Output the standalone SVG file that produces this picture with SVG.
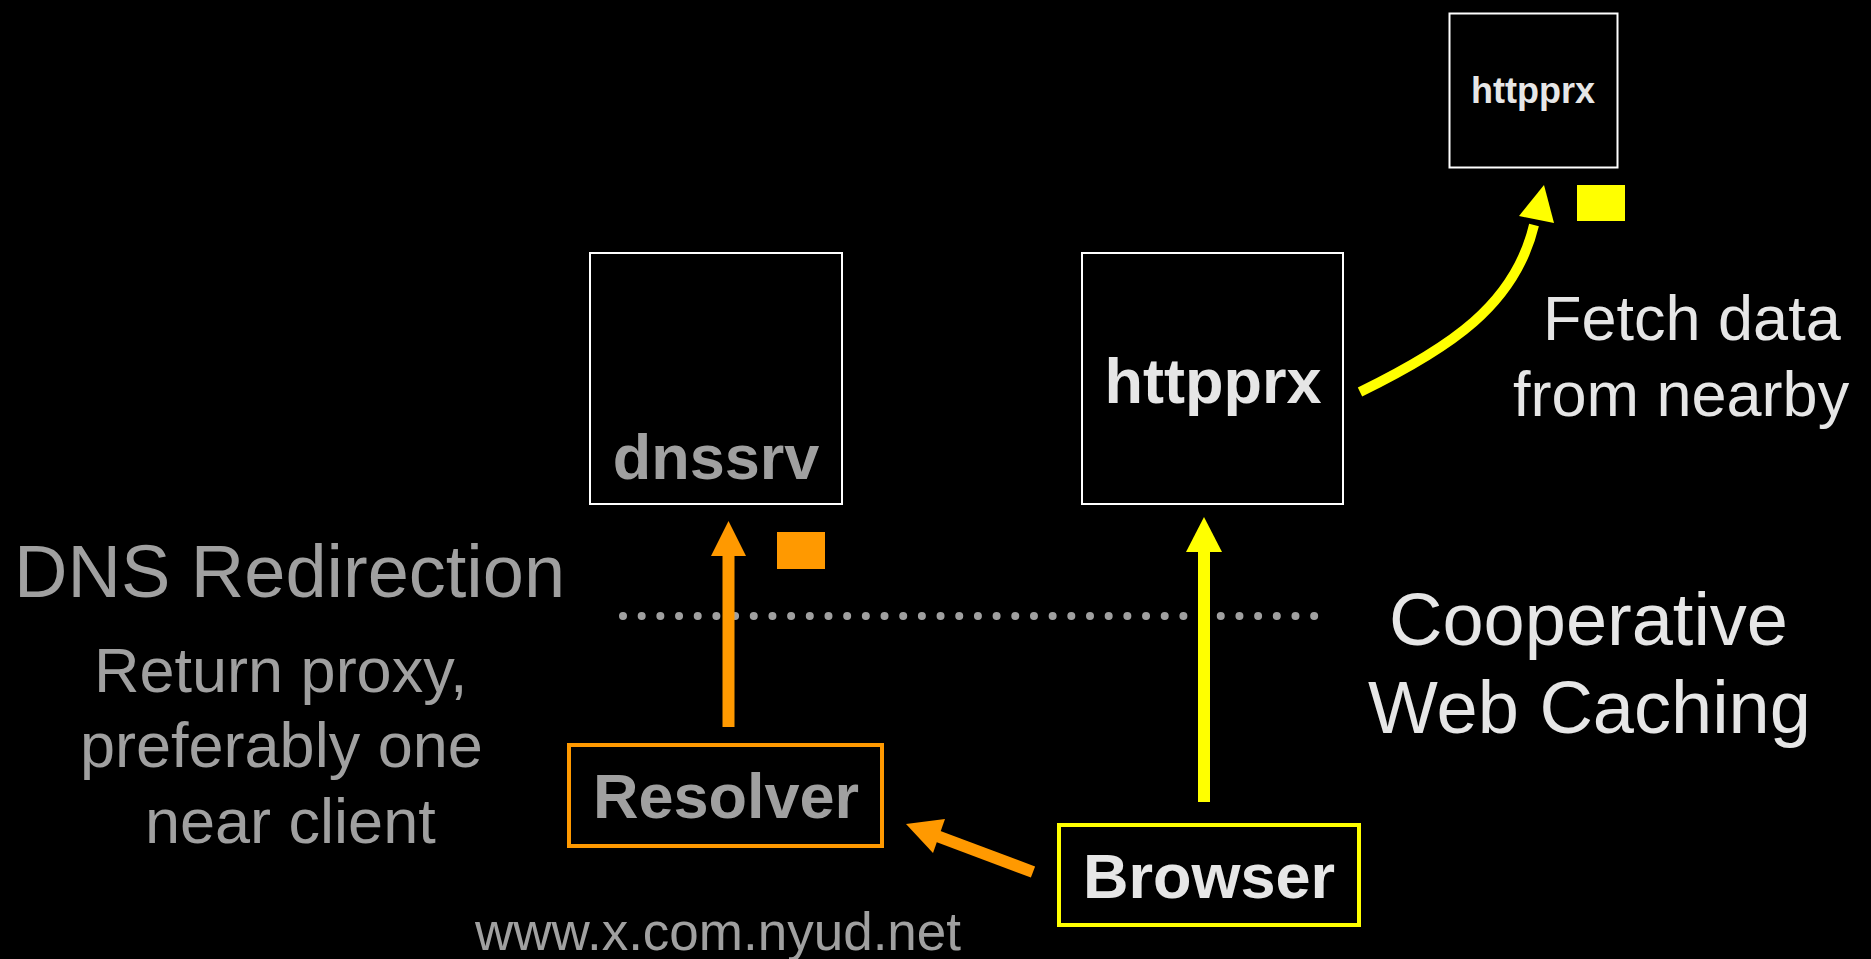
<svg xmlns="http://www.w3.org/2000/svg" width="1871" height="959" viewBox="0 0 1871 959">
<style>
.box{fill:#000;stroke:#fff;stroke-width:2}
.t{font-family:"Liberation Sans",Arial,sans-serif}
.b{font-weight:bold}
.gray{fill:#a0a0a0}
.light{fill:#e6e6e6}
.or{fill:#ff9900}
.ye{fill:#ffff00}
</style>
<rect width="1871" height="959" fill="#000"/>
<g id="labels">
<text class="t gray" x="14" y="597" font-size="74">DNS Redirection</text>
<text class="t gray" x="94" y="692" font-size="63">Return proxy,</text>
<text class="t gray" x="80" y="767" font-size="63">preferably one</text>
<text class="t gray" x="145" y="843" font-size="63">near client</text>
<text class="t gray" x="475" y="950" font-size="53">www.x.com.nyud.net</text>
<text class="t light" x="1543" y="340" font-size="63">Fetch data</text>
<text class="t light" x="1513" y="416" font-size="63">from nearby</text>
<text class="t light" x="1389" y="645" font-size="74">Cooperative</text>
<text class="t light" x="1368" y="733" font-size="74">Web Caching</text>
</g>
<g id="divider">
<line x1="623" y1="616" x2="1316" y2="616" stroke="#a0a0a0" stroke-width="8" stroke-linecap="round" stroke-dasharray="0 18.68"/>
</g>
<g id="dnssrv">
<rect class="box" x="590" y="253" width="252" height="251"/>
<text class="t b gray" x="716" y="479" font-size="63" text-anchor="middle">dnssrv</text>
</g>
<g id="httpprx">
<rect class="box" x="1082" y="253" width="261" height="251"/>
<text class="t b light" x="1213" y="403" font-size="63" text-anchor="middle">httpprx</text>
</g>
<g id="httpprx-remote">
<rect class="box" x="1449.5" y="13.5" width="168" height="154" stroke-width="3"/>
<text class="t b light" x="1533" y="103" font-size="36" text-anchor="middle">httpprx</text>
</g>
<g id="resolver">
<rect x="569" y="745" width="313" height="101" fill="#000" stroke="#ff9900" stroke-width="4"/>
<text class="t b gray" x="726" y="818" font-size="63" text-anchor="middle">Resolver</text>
</g>
<g id="browser">
<rect x="1059" y="825" width="300" height="100" fill="#000" stroke="#ffff00" stroke-width="4"/>
<text class="t b light" x="1209" y="898" font-size="63" text-anchor="middle">Browser</text>
</g>
<g id="markers">
<rect class="or" x="777" y="532" width="48" height="37"/>
<rect class="ye" x="1577" y="185" width="48" height="36"/>
</g>
<g id="connectors">
<line x1="728.5" y1="727" x2="728.5" y2="554" stroke="#ff9900" stroke-width="12"/>
<polygon class="or" points="728.5,521 711,556 746,556"/>
<line x1="1204" y1="802" x2="1204" y2="550" stroke="#ffff00" stroke-width="12"/>
<polygon class="ye" points="1204,517 1186,552 1222,552"/>
<line x1="1033" y1="872" x2="937" y2="836" stroke="#ff9900" stroke-width="12"/>
<polygon class="or" points="906,824 945,819 933,853"/>
<path d="M1360,392 C1450,348 1515,305 1534,225" fill="none" stroke="#ffff00" stroke-width="10"/>
<polygon class="ye" points="1544,185 1519,216 1554,223"/>
</g>
</svg>
